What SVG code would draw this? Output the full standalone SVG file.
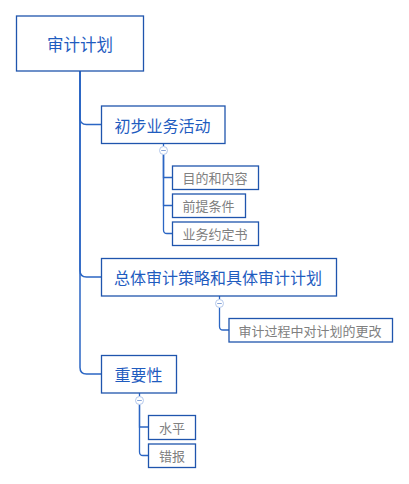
<svg xmlns="http://www.w3.org/2000/svg" width="409" height="484" viewBox="0 0 409 484">
<style>
.box{fill:#ffffff;stroke:#1f55ad;stroke-width:1.3}
.t{font-family:"Noto Sans CJK SC","Noto Sans",sans-serif;text-anchor:middle;dominant-baseline:central}
.main{fill:#1f5cbf;font-size:16px}
.leaf{fill:#808080;font-size:13px}
.c{fill:none;stroke:#2b66c4;stroke-width:1.5}
.cl{fill:none;stroke:#2b66c4;stroke-width:1.3}
.tog{fill:#ffffff;stroke:#b3c8ec;stroke-width:1}
.minus{stroke:#8aa6d8;stroke-width:1}
</style>
<rect width="409" height="484" fill="#ffffff"/>
<g id="connectors">
<path class="c" d="M80,71 V118 Q80,124.5 86.5,124.5 H101"/>
<path class="c" d="M80,71 V270.5 Q80,277 86.5,277 H101"/>
<path class="c" d="M80,71 V367.5 Q80,374 86.5,374 H101"/>
<path class="cl" d="M163.5,143 V146.5"/>
<path class="cl" d="M163.5,154.5 V177.5 H172"/>
<path class="cl" d="M163.5,154.5 V205.5 H172"/>
<path class="cl" d="M163.5,154.5 V230 Q163.5,233.5 167,233.5 H172"/>
<path class="cl" d="M219.5,296 V299.5"/>
<path class="cl" d="M219.5,307.5 V326.5 Q219.5,330 223,330 H229"/>
<path class="cl" d="M139.5,393 V396.5"/>
<path class="cl" d="M139.5,404.5 V427 H148"/>
<path class="cl" d="M139.5,404.5 V452 Q139.5,455.5 143,455.5 H148"/>
<circle class="tog" cx="163.5" cy="150.5" r="4"/>
<path class="minus" d="M161.2,150.5 H165.8"/>
<circle class="tog" cx="219.5" cy="303.5" r="4"/>
<path class="minus" d="M217.2,303.5 H221.8"/>
<circle class="tog" cx="139.5" cy="400.5" r="4"/>
<path class="minus" d="M137.2,400.5 H141.8"/>
</g>
<g id="root">
<rect class="box" x="16.5" y="16" width="127" height="55"/>
<text class="t main" x="80" y="44" style="font-size:16.5px">审计计划</text>
</g>
<g id="n1">
<rect class="box" x="101.5" y="106" width="123.5" height="37.5"/>
<text class="t main" x="162.5" y="124.5">初步业务活动</text>
</g>
<g id="n1a">
<rect class="box" x="172.5" y="166" width="86" height="23.5"/>
<text class="t leaf" x="215" y="177.5">目的和内容</text>
</g>
<g id="n1b">
<rect class="box" x="172.5" y="194" width="73" height="23.5"/>
<text class="t leaf" x="208.5" y="205.5">前提条件</text>
</g>
<g id="n1c">
<rect class="box" x="172.5" y="222" width="86" height="23.5"/>
<text class="t leaf" x="215" y="233.5">业务约定书</text>
</g>
<g id="n2">
<rect class="box" x="101.5" y="258.5" width="235" height="37.5"/>
<text class="t main" x="218" y="277">总体审计策略和具体审计计划</text>
</g>
<g id="n2a">
<rect class="box" x="229" y="318.5" width="163.5" height="23.5"/>
<text class="t leaf" x="310" y="330">审计过程中对计划的更改</text>
</g>
<g id="n3">
<rect class="box" x="101.5" y="355.5" width="75" height="37.5"/>
<text class="t main" x="138.5" y="374">重要性</text>
</g>
<g id="n3a">
<rect class="box" x="148.5" y="415.5" width="47" height="24"/>
<text class="t leaf" x="172" y="427.5">水平</text>
</g>
<g id="n3b">
<rect class="box" x="148.5" y="444" width="47" height="23.5"/>
<text class="t leaf" x="172" y="455.5">错报</text>
</g>
</svg>
